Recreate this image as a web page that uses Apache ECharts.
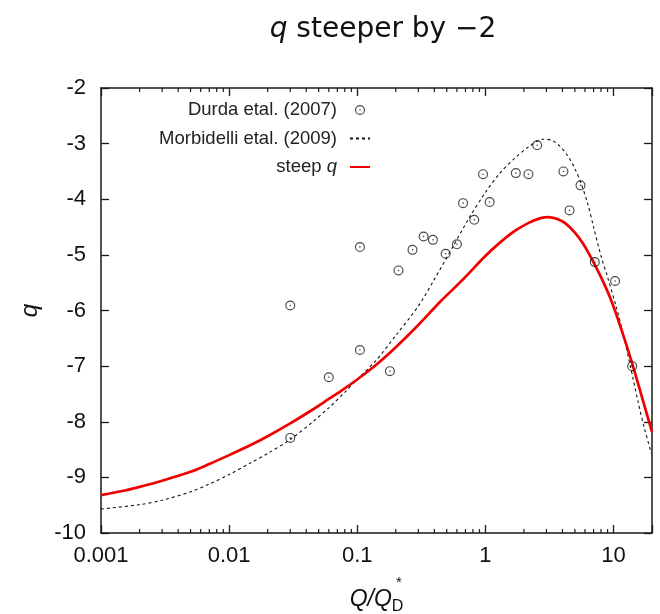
<!DOCTYPE html>
<html>
<head>
<meta charset="utf-8">
<script src="https://cdn.jsdelivr.net/npm/echarts@6/dist/echarts.min.js"></script>
<style>
html,body{margin:0;padding:0;background:#fff;}
#chart{width:660px;height:614px;}
</style>
</head>
<body>
<div id="chart"></div>
<script>
// ---- data ----
var durdaX = [0.03, 0.03, 0.06, 0.105, 0.105, 0.18, 0.21, 0.27, 0.33, 0.39, 0.49, 0.60, 0.67, 0.82, 0.96, 1.08, 1.73, 2.17, 2.54, 4.07, 4.54, 5.53, 7.15, 10.3, 14.0];
var durdaY = [-5.91, -8.29, -7.20, -4.86, -6.71, -7.09, -5.28, -4.91, -4.67, -4.73, -4.98, -4.81, -4.07, -4.37, -3.55, -4.05, -3.53, -3.55, -3.03, -3.50, -4.20, -3.75, -5.13, -5.47, -7.00];

var morbX = [0.001, 0.002, 0.003, 0.005, 0.007, 0.01, 0.015, 0.02, 0.03, 0.045, 0.06, 0.08, 0.1, 0.14, 0.2, 0.3, 0.4, 0.55, 0.75, 1.0, 1.3, 1.7, 2.2, 2.8, 3.3, 3.8, 4.4, 5.0, 5.6, 6.3, 7.0, 8.0, 9.0, 10.5, 12.0, 13.5, 15.5, 17.5, 19.8];
var morbY = [-9.57, -9.49, -9.41, -9.26, -9.12, -8.95, -8.73, -8.57, -8.32, -8.00, -7.75, -7.47, -7.24, -6.90, -6.45, -5.92, -5.44, -4.88, -4.33, -3.88, -3.53, -3.26, -3.05, -2.92, -2.94, -3.04, -3.22, -3.45, -3.72, -4.08, -4.50, -5.02, -5.40, -5.93, -6.45, -6.98, -7.62, -8.13, -8.57];

var steepX = [0.001, 0.0015, 0.002, 0.003, 0.005, 0.007, 0.01, 0.015, 0.02, 0.03, 0.045, 0.06, 0.08, 0.1, 0.14, 0.2, 0.3, 0.45, 0.67, 1.0, 1.3, 1.7, 2.2, 2.7, 3.1, 3.6, 4.2, 5.0, 5.8, 6.8, 8.0, 9.5, 11.5, 14.0, 17.0, 20.0];
var steepY = [-9.32, -9.24, -9.17, -9.06, -8.90, -8.76, -8.60, -8.41, -8.26, -8.03, -7.78, -7.59, -7.40, -7.24, -6.98, -6.66, -6.26, -5.83, -5.44, -5.02, -4.78, -4.57, -4.42, -4.34, -4.32, -4.35, -4.43, -4.60, -4.80, -5.08, -5.40, -5.79, -6.33, -6.95, -7.62, -8.18];

var xTickLabels = ["0.001", "0.01", "0.1", "1", "10"];
var yTickLabels = ["-10", "-9", "-8", "-7", "-6", "-5", "-4", "-3", "-2"];
var minorMultipliers = [2, 3, 4, 5, 6, 7, 8, 9];
var decades = [0.001, 0.01, 0.1, 1, 10];

var seriesNames = ["Durda etal. (2007)", "Morbidelli etal. (2009)", "steep q"];

// ---- build ----
function zip(a, b) { var r = []; for (var i = 0; i < a.length; i++) r.push([a[i], b[i]]); return r; }
var minorTicks = [];
decades.forEach(function (d) {
  minorMultipliers.forEach(function (m) {
    var v = d * m;
    if (v < 20) minorTicks.push([v]);
  });
});

var FONT = "Liberation Sans";
var ringSymbol = 'path://M0,-5A5,5 0 1,1 0,5A5,5 0 1,1 0,-5Z M0,-3.85A3.85,3.85 0 1,0 0,3.85A3.85,3.85 0 1,0 0,-3.85Z M0,-0.8A0.8,0.8 0 1,1 0,0.8A0.8,0.8 0 1,1 0,-0.8Z';

var chart = echarts.init(document.getElementById('chart'), null, {renderer: 'canvas'});
var axisLine = {show: true, lineStyle: {color: '#1a1a1a', width: 1.5}};
var tickStyle = {show: true, inside: true, length: 8, lineStyle: {color: '#1a1a1a', width: 1.3}};
var option = {
  backgroundColor: '#ffffff',
  animation: false,
  title: {
    text: '{i|q} steeper by \u22122',
    left: 378, top: 11, textAlign: 'center',
    textStyle: {
      fontFamily: 'DejaVu Sans', fontSize: 28, fontWeight: 'normal', color: '#111',
      rich: {i: {fontStyle: 'italic', fontFamily: 'DejaVu Sans', fontSize: 28, color: '#111'}}
    }
  },
  grid: {left: 101, right: 8, top: 88, bottom: 81, containLabel: false, outerBoundsMode: 'none'},
  legend: {
    orient: 'vertical', right: 284, top: 95, align: 'right',
    itemWidth: 20, itemHeight: 10, itemGap: 8.5,
    data: [
      {name: seriesNames[0]},
      {name: seriesNames[1], itemStyle: {opacity: 0}},
      {name: seriesNames[2], itemStyle: {opacity: 0}}
    ],
    formatter: function (n) { return n === seriesNames[2] ? 'steep {i|q}' : n; },
    textStyle: {
      fontFamily: FONT, fontSize: 18.5, color: '#222', lineHeight: 20, padding: [0, 8, 0, 0],
      rich: {i: {fontStyle: 'italic', fontFamily: FONT, fontSize: 18.5, color: '#222'}}
    },
    selectedMode: false
  },
  xAxis: [{
    type: 'log', logBase: 10, min: 0.001, max: 20, position: 'bottom',
    axisLine: axisLine, axisTick: tickStyle,
    axisLabel: {
      fontFamily: FONT, fontSize: 22, color: '#111', margin: 12,
      formatter: function (v) {
        var e = Math.round(Math.log10(v));
        var idx = e + 3;
        return (Math.abs(v - Math.pow(10, e)) / v < 1e-6 && xTickLabels[idx]) ? xTickLabels[idx] : '';
      }
    },
    splitLine: {show: false},
    name: '{i|Q/Q}{s|D}', nameLocation: 'middle', nameGap: 51,
    nameTextStyle: {
      fontFamily: FONT, fontSize: 22, color: '#111',
      rich: {
        i: {fontStyle: 'italic', fontFamily: FONT, fontSize: 23, color: '#111'},
        s: {fontFamily: FONT, fontSize: 16, color: '#111', verticalAlign: 'bottom', padding: [15, 0, 0, 0]}
      }
    }
  }, {
    type: 'log', logBase: 10, min: 0.001, max: 20, position: 'top',
    axisLine: axisLine, axisTick: tickStyle,
    axisLabel: {show: false}, splitLine: {show: false}
  }],
  yAxis: [{
    type: 'value', min: -10, max: -2, interval: 1, position: 'left',
    axisLine: axisLine, axisTick: tickStyle,
    axisLabel: {
      fontFamily: FONT, fontSize: 22, color: '#111', margin: 15,
      formatter: function (v) { return yTickLabels[Math.round(v) + 10]; }
    },
    splitLine: {show: false},
    name: 'q', nameLocation: 'middle', nameGap: 59, nameRotate: 90,
    nameTextStyle: {fontFamily: FONT, fontSize: 24, fontStyle: 'italic', color: '#111'}
  }, {
    type: 'value', min: -10, max: -2, interval: 1, position: 'right',
    axisLine: axisLine, axisTick: tickStyle,
    axisLabel: {show: false}, splitLine: {show: false}
  }],
  graphic: [{
    type: 'text', left: 396, top: 575,
    style: {text: '*', fontFamily: FONT, fontSize: 15, fill: '#111'}
  }],
  series: [
    {
      name: seriesNames[1], type: 'line', data: zip(morbX, morbY),
      showSymbol: false, symbol: 'none', smooth: 0.3,
      lineStyle: {color: '#111', width: 1.1, type: [3, 3]},
      itemStyle: {color: '#111'}, z: 3
    },
    {
      name: seriesNames[2], type: 'line', data: zip(steepX, steepY),
      showSymbol: false, symbol: 'none', smooth: 0.3,
      lineStyle: {color: '#f00000', width: 2.7},
      itemStyle: {color: '#f00000'}, z: 4
    },
    {
      name: seriesNames[0], type: 'scatter', data: zip(durdaX, durdaY),
      symbol: ringSymbol, symbolSize: 10,
      itemStyle: {color: '#1a1a1a'}, z: 5
    },
    {
      name: 'minor ticks', type: 'custom', data: minorTicks, xAxisIndex: 0, yAxisIndex: 0,
      silent: true, z: 6,
      renderItem: function (params, api) {
        var v = api.value(0);
        var b = api.coord([v, -10]);
        var t = api.coord([v, -2]);
        return {
          type: 'group', children: [
            {type: 'line', shape: {x1: b[0], y1: b[1], x2: b[0], y2: b[1] - 4}, style: {stroke: '#1a1a1a', lineWidth: 1.2}},
            {type: 'line', shape: {x1: t[0], y1: t[1], x2: t[0], y2: t[1] + 4}, style: {stroke: '#1a1a1a', lineWidth: 1.2}}
          ]
        };
      }
    }
  ]
};
chart.setOption(option);
</script>
</body>
</html>
